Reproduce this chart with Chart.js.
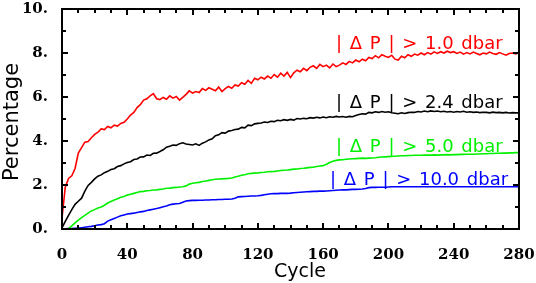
<!DOCTYPE html>
<html>
<head>
<meta charset="utf-8">
<script src="https://cdn.jsdelivr.net/npm/chart.js@4/dist/chart.umd.min.js"></script>
<style>
  html, body { margin: 0; padding: 0; background: #fff; }
  canvas { display: block; }
</style>
</head>
<body>
<canvas id="pressure-chart" width="536" height="283"></canvas>
<script>
const cycles = [
    0, 2, 4, 6, 8, 10, 12, 14, 16, 18, 20, 22, 24, 26, 28, 30, 32, 34, 36, 38,
    40, 42, 44, 46, 48, 50, 52, 54, 56, 58, 60, 62, 64, 66, 68, 70, 72, 74, 76, 78,
    80, 82, 84, 86, 88, 90, 92, 94, 96, 98, 100, 102, 104, 106, 108, 110, 112, 114, 116, 118,
    120, 122, 124, 126, 128, 130, 132, 134, 136, 138, 140, 142, 144, 146, 148, 150, 152, 154, 156, 158,
    160, 162, 164, 166, 168, 170, 172, 174, 176, 178, 180, 182, 184, 186, 188, 190, 192, 194, 196, 198,
    200, 202, 204, 206, 208, 210, 212, 214, 216, 218, 220, 222, 224, 226, 228, 230, 232, 234, 236, 238,
    240, 242, 244, 246, 248, 250, 252, 254, 256, 258, 260, 262, 264, 266, 268, 270, 272, 274, 276, 278,
    280
]

// |dP| > 1.0 dbar
const pct1 = [
    0.50, 1.90, 2.30, 2.42, 2.75, 3.45, 3.70, 3.95, 3.98, 4.15,
    4.30, 4.40, 4.55, 4.52, 4.66, 4.60, 4.72, 4.68, 4.80, 4.85,
    5.00, 5.18, 5.30, 5.52, 5.65, 5.86, 5.92, 6.05, 6.15, 5.92,
    5.88, 5.98, 5.90, 6.05, 5.95, 6.02, 5.86, 5.98, 6.12, 6.28,
    6.18, 6.25, 6.20, 6.38, 6.30, 6.42, 6.35, 6.28, 6.45, 6.25,
    6.38, 6.48, 6.40, 6.55, 6.50, 6.65, 6.58, 6.75, 6.62, 6.85,
    6.78, 6.90, 6.82, 6.95, 6.85, 7.02, 6.90, 7.08, 6.95, 7.12,
    6.88, 7.10, 7.22, 7.15, 7.30, 7.20, 7.35, 7.42, 7.30, 7.48,
    7.38, 7.45, 7.32, 7.50, 7.38, 7.45, 7.55, 7.48, 7.62, 7.55,
    7.68, 7.60, 7.72, 7.65, 7.80, 7.75, 7.88, 7.78, 7.92, 7.85,
    7.80, 7.90, 7.72, 7.68, 7.85, 7.78, 7.92, 7.85, 7.95, 7.90,
    8.00, 7.92, 8.02, 7.95, 8.05, 7.98, 8.06, 8.00, 8.08, 8.02,
    8.06, 7.98, 8.04, 7.95, 8.02, 7.96, 8.04, 7.98, 7.92, 8.00,
    7.96, 8.04, 7.98, 7.94, 8.02, 7.96, 7.90, 7.98, 8.00, 7.96,
    8.02
]

// |dP| > 2.4 dbar
const pct24 = [
    0.05, 0.35, 0.62, 0.88, 1.12, 1.26, 1.40, 1.72, 1.98, 2.12,
    2.28, 2.40, 2.46, 2.56, 2.62, 2.70, 2.74, 2.84, 2.88, 2.96,
    3.02, 3.06, 3.16, 3.18, 3.27, 3.28, 3.36, 3.34, 3.44, 3.45,
    3.52, 3.60, 3.72, 3.76, 3.82, 3.80, 3.88, 3.92, 3.86, 3.84,
    3.82, 3.87, 3.80, 3.90, 3.96, 4.05, 4.10, 4.24, 4.28, 4.38,
    4.36, 4.45, 4.48, 4.52, 4.54, 4.62, 4.60, 4.72, 4.70, 4.78,
    4.80, 4.82, 4.86, 4.84, 4.90, 4.88, 4.94, 4.92, 4.97, 4.94,
    4.98, 4.95, 5.02, 5.00, 5.03, 5.01, 5.06, 5.04, 5.08, 5.05,
    5.09, 5.06, 5.10, 5.08, 5.12, 5.09, 5.11, 5.08, 5.12, 5.10,
    5.16, 5.20, 5.24, 5.22, 5.30, 5.28, 5.33, 5.30, 5.34, 5.31,
    5.33, 5.28, 5.26, 5.24, 5.28, 5.25, 5.29, 5.31, 5.30, 5.34,
    5.32, 5.36, 5.33, 5.37, 5.34, 5.36, 5.33, 5.35, 5.32, 5.34,
    5.31, 5.34, 5.32, 5.35, 5.31, 5.33, 5.30, 5.32, 5.29, 5.31,
    5.30, 5.28, 5.31, 5.29, 5.30, 5.28, 5.30, 5.27, 5.29, 5.28,
    5.28
]

// |dP| > 5.0 dbar
const pct5 = [
    0.00, 0.00, 0.02, 0.14, 0.28, 0.40, 0.52, 0.62, 0.72, 0.82,
    0.88, 0.95, 1.00, 1.08, 1.18, 1.25, 1.32, 1.38, 1.44, 1.48,
    1.54, 1.58, 1.62, 1.66, 1.70, 1.71, 1.74, 1.75, 1.77, 1.78,
    1.80, 1.82, 1.85, 1.86, 1.88, 1.89, 1.91, 1.92, 1.96, 2.04,
    2.08, 2.10, 2.12, 2.16, 2.18, 2.21, 2.24, 2.26, 2.27, 2.28,
    2.29, 2.30, 2.32, 2.36, 2.40, 2.44, 2.47, 2.51, 2.53, 2.54,
    2.55, 2.57, 2.58, 2.60, 2.61, 2.62, 2.64, 2.66, 2.67, 2.68,
    2.70, 2.72, 2.73, 2.75, 2.76, 2.78, 2.80, 2.81, 2.84, 2.86,
    2.88, 2.94, 3.02, 3.08, 3.12, 3.14, 3.15, 3.17, 3.18, 3.19,
    3.20, 3.21, 3.22, 3.21, 3.22, 3.23, 3.24, 3.26, 3.27, 3.28,
    3.29, 3.30, 3.31, 3.32, 3.33, 3.33, 3.34, 3.34, 3.35, 3.35,
    3.35, 3.36, 3.36, 3.36, 3.37, 3.36, 3.37, 3.37, 3.38, 3.37,
    3.38, 3.38, 3.39, 3.39, 3.40, 3.40, 3.40, 3.41, 3.41, 3.42,
    3.42, 3.43, 3.43, 3.44, 3.44, 3.45, 3.45, 3.46, 3.46, 3.47,
    3.47
]

// |dP| > 10.0 dbar
const pct10 = [
    0.00, 0.01, 0.02, 0.02, 0.03, 0.04, 0.06, 0.08, 0.10, 0.12,
    0.15, 0.18, 0.20, 0.24, 0.36, 0.42, 0.48, 0.54, 0.60, 0.64,
    0.68, 0.70, 0.72, 0.75, 0.78, 0.80, 0.84, 0.87, 0.90, 0.93,
    0.97, 1.01, 1.05, 1.10, 1.13, 1.15, 1.16, 1.22, 1.27, 1.29,
    1.30, 1.30, 1.31, 1.31, 1.32, 1.32, 1.33, 1.33, 1.34, 1.34,
    1.35, 1.35, 1.36, 1.40, 1.46, 1.47, 1.48, 1.49, 1.50, 1.50,
    1.51, 1.53, 1.56, 1.58, 1.60, 1.61, 1.61, 1.62, 1.62, 1.62,
    1.63, 1.65, 1.66, 1.67, 1.68, 1.69, 1.70, 1.71, 1.71, 1.72,
    1.72, 1.73, 1.74, 1.75, 1.76, 1.77, 1.78, 1.78, 1.79, 1.80,
    1.80, 1.81, 1.82, 1.84, 1.88, 1.89, 1.89, 1.90, 1.90, 1.90,
    1.91, 1.92, 1.92, 1.92, 1.92, 1.92, 1.92, 1.92, 1.92, 1.92,
    1.92, 1.92, 1.92, 1.92, 1.92, 1.92, 1.92, 1.92, 1.92, 1.92,
    1.92, 1.92, 1.92, 1.92, 1.92, 1.92, 1.92, 1.92, 1.92, 1.92,
    1.92, 1.92, 1.92, 1.92, 1.92, 1.92, 1.92, 1.92, 1.92, 1.92,
    1.92
]

const seriesLabels = ['| \u0394 P | > 1.0 dbar', '| \u0394 P | > 2.4 dbar', '| \u0394 P | > 5.0 dbar', '| \u0394 P | > 10.0 dbar']
const seriesColors = ['#ff0000', '#000000', '#00f000', '#0000ff']
const xTitle = 'Cycle'
const yTitle = 'Percentage'

const toPoints = (vals) => vals.map((v, i) => ({ x: cycles[i], y: v }))

const makeSet = (idx, vals) => ({
    label: seriesLabels[idx],
    data: toPoints(vals),
    borderColor: seriesColors[idx],
    borderWidth: 1.6,
    pointRadius: 0,
    fill: false,
    tension: 0
})

// where the in-plot labels sit: [left x, baseline y]
const labelSpots = [[336, 49], [336, 107.5], [336, 151.5], [330, 185]]

const boxPlugin = {
    id: 'plotBox',
    afterDraw(chart) {
        const ctx = chart.ctx
        const xs = chart.scales.x
        const ys = chart.scales.y
        const left = Math.round(xs.getPixelForValue(0))
        const right = Math.round(xs.getPixelForValue(280))
        const top = Math.round(ys.getPixelForValue(10))
        const bottom = Math.round(ys.getPixelForValue(0))
        ctx.save()
        ctx.fillStyle = '#000'
        ctx.fillRect(left - 1, top - 1, right - left + 2, 2)
        ctx.fillRect(left - 1, bottom - 1, right - left + 2, 2)
        ctx.fillRect(left - 1, top - 1, 2, bottom - top + 2)
        ctx.fillRect(right - 1, top - 1, 2, bottom - top + 2)

        // inward ticks on all four sides
        for (let c = 0; c <= 280; c += 10) {
            const px = Math.round(xs.getPixelForValue(c))
            const len = c % 40 === 0 ? 6 : 4
            ctx.fillRect(px - 1, bottom - len, 2, len)
            ctx.fillRect(px - 1, top, 2, len)
        }
        for (let v = 0; v <= 10; v += 1) {
            const py = Math.round(ys.getPixelForValue(v))
            const len = v % 2 === 0 ? 6 : 4
            ctx.fillRect(left, py - 1, len, 2)
            ctx.fillRect(right - len, py - 1, len, 2)
        }

        // series labels inside the plot
        ctx.font = '18px "DejaVu Sans"'
        ctx.wordSpacing = '2px'
        ctx.textAlign = 'left'
        ctx.textBaseline = 'alphabetic'
        seriesLabels.forEach((txt, i) => {
            ctx.fillStyle = seriesColors[i]
            ctx.fillText(txt, labelSpots[i][0], labelSpots[i][1])
        })
        ctx.wordSpacing = '0px'

        // axis titles
        ctx.fillStyle = '#000'
        ctx.font = '19px "DejaVu Sans"'
        ctx.textAlign = 'center'
        ctx.fillText(xTitle, 300, 277)
        ctx.translate(18, 122)
        ctx.rotate(-Math.PI / 2)
        ctx.font = '21px "DejaVu Sans"'
        ctx.fillText(yTitle, 0, 0)
        ctx.restore()
    }
}

const tickFont = { family: 'DejaVu Serif', size: 15, weight: 'bold' }

const config = {
    type: 'line',
    data: {
        datasets: [makeSet(0, pct1), makeSet(1, pct24), makeSet(2, pct5), makeSet(3, pct10)]
    },
    options: {
        responsive: false,
        animation: false,
        layout: {
            padding: { top: 9, right: 17, left: 0, bottom: 0 }
        },
        plugins: {
            legend: { display: false },
            tooltip: { enabled: false }
        },
        scales: {
            x: {
                type: 'linear',
                min: 0,
                max: 280,
                grid: { display: false, drawTicks: false },
                border: { display: false },
                ticks: {
                    stepSize: 40,
                    color: '#000',
                    font: tickFont,
                    padding: 17,
                    maxRotation: 0
                },
                afterFit(scale) {
                    scale.height = 54
                    scale.paddingLeft = 0
                    scale.paddingRight = 0
                }
            },
            y: {
                min: 0,
                max: 10,
                grid: { display: false, drawTicks: false },
                border: { display: false },
                ticks: {
                    stepSize: 2,
                    color: '#000',
                    font: tickFont,
                    padding: 14,
                    callback: (v) => v.toFixed(0) + '.'
                },
                afterFit(scale) {
                    scale.width = 62
                    scale.paddingTop = 0
                    scale.paddingBottom = 0
                }
            }
        }
    },
    plugins: [boxPlugin]
}

new Chart(document.getElementById('pressure-chart'), config)
</script>
</body>
</html>
